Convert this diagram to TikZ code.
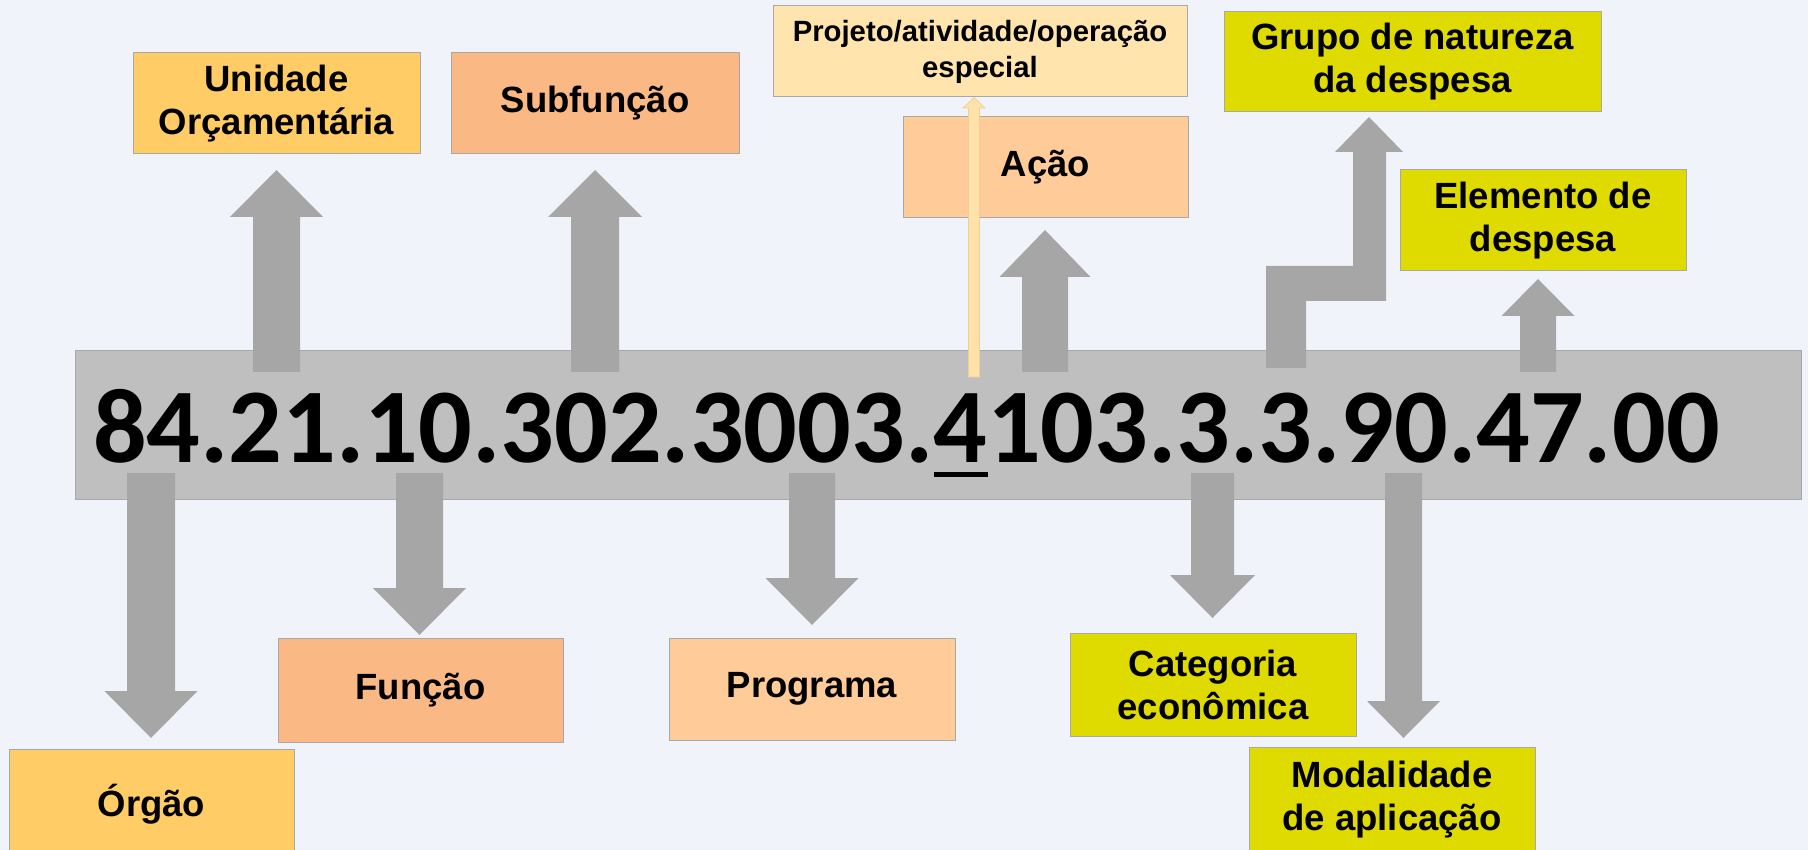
\documentclass[tikz,border=0pt]{standalone}
\usepackage{fontspec}
\newfontfamily\labfont{Liberation Sans}
\newfontfamily\numfont{Carlito}
\definecolor{bgc}{HTML}{F0F4FA}
\definecolor{barc}{HTML}{BFBFBF}
\definecolor{arrc}{HTML}{A6A6A6}
\definecolor{bordc}{HTML}{A8A8A8}
\definecolor{c-gold}{HTML}{FFCC66}
\definecolor{c-salmon}{HTML}{FAB884}
\definecolor{c-peach}{HTML}{FFCC99}
\definecolor{c-cream}{HTML}{FFE5AD}
\definecolor{c-yellow}{HTML}{DFDA00}
\definecolor{thinc}{HTML}{FFE2AA}
\definecolor{thinb}{HTML}{F2CF96}
\newcommand{\blockarrow}[6]{%
  \fill[arrc] ({#1-#2},#4) -- ({#1-#2},#5) -- ({#1-#3},#5) -- (#1,#6)
    -- ({#1+#3},#5) -- ({#1+#2},#5) -- ({#1+#2},#4) -- cycle;}
\begin{document}
\begin{tikzpicture}[x=1pt,y=-1pt,
  box/.style={draw=bordc, line width=1pt, minimum width=#1, inner sep=0pt,
    align=center, font=\labfont\bfseries\fontsize{36.5}{43}\selectfont},
  box/.default=287pt]
\useasboundingbox (0,0) rectangle (1808,850);
\fill[bgc] (0,0) rectangle (1808,850);
% boxes
\node[box, fill=c-gold, minimum height=101pt] (uni) at (276.5,103.5) {Unidade\\Orçamentária};
\node[box, fill=c-salmon, minimum height=101pt, minimum width=288pt] (subf) at (595,103.5) {Subfunção};
\node[box, fill=c-cream, minimum width=414pt, minimum height=91pt,
  font=\labfont\bfseries\fontsize{29.3}{36}\selectfont] (proj) at (980,51.5) {Projeto/atividade/operação\\especial};
\node[box, fill=c-peach, minimum width=285pt, minimum height=101pt] (acao) at (1045.5,167.5) {Ação};
\node[box, fill=c-yellow, minimum width=377pt, minimum height=100pt] (grupo) at (1412.5,62) {Grupo de natureza\\da despesa};
\node[box, fill=c-yellow, minimum width=286pt, minimum height=101pt] (elem) at (1543,220.5) {Elemento de\\despesa};
\node[box, fill=c-gold, minimum width=285pt, minimum height=110pt] (orgao) at (151.5,804) {Órgão};
\node[box, fill=c-salmon, minimum width=285pt, minimum height=104pt] (funcao) at (420.5,690) {Função};
\node[box, fill=c-peach, minimum width=286pt, minimum height=102pt] (prog) at (812,689) {Programa};
\node[box, fill=c-yellow, minimum width=286pt, minimum height=103pt] (categ) at (1213,684.5) {Categoria\\econômica};
\node[box, fill=c-yellow, minimum width=286pt, minimum height=106pt] (modal) at (1392,800) {Modalidade\\de aplicação};
% code bar
\node[fill=barc, draw=bordc, line width=0.8pt, minimum width=1726pt, minimum height=149pt,
  inner sep=0pt] (bar) at (938,424.5) {};
% up arrows
\blockarrow{276.5}{23.5}{46.5}{372}{217}{170}
\blockarrow{595}{24}{47}{372}{217}{170}
\blockarrow{1045}{23}{45.5}{372}{277}{230}
\blockarrow{1538}{18}{36.5}{372}{316}{279}
\fill[arrc] (1266,368) -- (1266,266) -- (1353,266) -- (1353,152) -- (1335,152)
  -- (1369,117) -- (1403,152) -- (1386,152) -- (1386,301) -- (1306,301)
  -- (1306,368) -- cycle;
% down arrows
\blockarrow{151}{24}{46.5}{473}{691}{738}
\blockarrow{419.5}{23.5}{46.5}{473}{588}{635}
\blockarrow{812}{23}{46.5}{473}{578}{625}
\blockarrow{1212.5}{21.5}{42.5}{473}{575}{618}
\blockarrow{1403.5}{18.5}{36.5}{473}{701}{738}
% thin arrow to Projeto
\filldraw[fill=thinc, draw=thinb, line width=0.8pt] (968.5,377) -- (968.5,108) -- (963,108)
  -- (974,97.5) -- (985,108) -- (979.5,108) -- (979.5,377) -- cycle;
% code number
\node[anchor=base west, inner sep=0pt, font=\numfont\bfseries\fontsize{106}{106}\selectfont]
  (code) at (93,462) {84.21.10.302.3003.4103.3.3.90.47.00};
\fill[black] (934,472) rectangle (988,477);
\end{tikzpicture}
\end{document}
